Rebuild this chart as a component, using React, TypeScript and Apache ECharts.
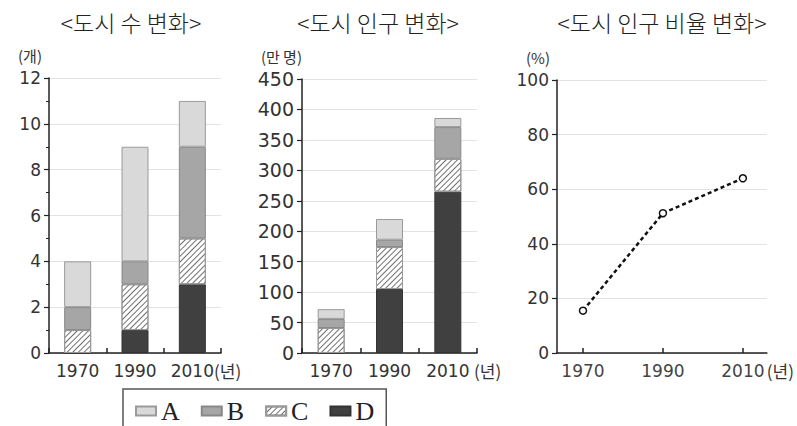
import React, { useEffect, useRef } from 'react';
import * as echarts from 'echarts';

const years = ['1970', '1990', '2010'];
const seriesNames = ['A', 'B', 'C', 'D'];

// <도시 수 변화> (개)
const countA = [2, 5, 2];
const countB = [1, 1, 4];
const countC = [1, 2, 2];
const countD = [0, 1, 3];

// <도시 인구 변화> (만 명)
const popA = [16, 34, 15];
const popB = [15, 12, 52];
const popC = [41, 69, 54];
const popD = [0, 105, 265];

// <도시 인구 비율 변화> (%)
const ratioYears = [1970, 1990, 2010];
const ratioValues = [15.5, 51.2, 64];

const titles = ['<도시 수 변화>', '<도시 인구 변화>', '<도시 인구 비율 변화>'];

const NUM_FONT = 'DejaVu Sans';
const KR_FONT = 'Noto Sans CJK KR';

const hatch = {
  symbol: 'rect',
  symbolSize: 1,
  dashArrayX: [1, 0],
  dashArrayY: [1, 2.6],
  rotation: -Math.PI / 4,
  color: '#707070',
};

const styles: Record<string, any> = {
  A: { color: '#d9d9d9', borderColor: '#9a9a9a', borderWidth: 1 },
  B: { color: '#a6a6a6', borderColor: '#888888', borderWidth: 1 },
  C: { color: '#ffffff', borderColor: '#999999', borderWidth: 1, decal: hatch },
  D: { color: '#404040', borderColor: '#333333', borderWidth: 1 },
};

export default function App() {
  const ref = useRef<HTMLDivElement>(null);
  useEffect(() => {
    if (!ref.current) return;
    const chart = echarts.init(ref.current, undefined, { renderer: 'svg' });

    const countData: Record<string, number[]> = { A: countA, B: countB, C: countC, D: countD };
    const popData: Record<string, number[]> = { A: popA, B: popB, C: popC, D: popD };
    const stackOrder = ['D', 'C', 'B', 'A'];

    const barSeries = (data: Record<string, number[]>, idx: number, stack: string) =>
      stackOrder.map((n) => ({
        name: n,
        type: 'bar',
        stack,
        xAxisIndex: idx,
        yAxisIndex: idx,
        barWidth: 27,
        data: data[n],
        itemStyle: styles[n],
      }));

    const catAxis = (idx: number, nameGap: number) => ({
      type: 'category',
      gridIndex: idx,
      data: years,
      boundaryGap: true,
      axisLine: { lineStyle: { color: '#222', width: 1.5 } },
      axisTick: { show: true, inside: true, length: 5, lineStyle: { color: '#222', width: 1.5 } },
      axisLabel: { fontFamily: NUM_FONT, fontSize: 17, color: '#333', margin: 9 },
      name: '(년)',
      nameLocation: 'end',
      nameGap,
      nameMoveOverlap: false,
      nameTextStyle: {
        fontFamily: KR_FONT,
        fontSize: 17,
        color: '#333',
        verticalAlign: 'top',
        padding: [9, 0, 0, 0],
      },
    });

    const valAxis = (
      idx: number,
      max: number,
      interval: number,
      name: string,
      fontSize: number,
      namePadRight: number,
      minor: boolean
    ) => ({
      type: 'value',
      gridIndex: idx,
      min: 0,
      max,
      interval,
      axisLine: { show: true, lineStyle: { color: '#222', width: 1.5 } },
      axisTick: { show: true, length: 5, lineStyle: { color: '#222', width: 1.2 } },
      minorTick: { show: minor, splitNumber: 2, length: 3, lineStyle: { color: '#222' } },
      splitLine: { show: true, lineStyle: { color: '#e2e2e2', width: 1 } },
      axisLabel: { fontFamily: NUM_FONT, fontSize, color: '#333', margin: 8 },
      name,
      nameLocation: 'end',
      nameGap: 15,
      nameMoveOverlap: false,
      nameTextStyle: {
        fontFamily: KR_FONT,
        fontSize: 15,
        lineHeight: 16,
        color: '#333',
        align: 'right',
        padding: [0, namePadRight, 0, 0],
      },
    });

    const option: any = {
      animation: false,
      backgroundColor: '#ffffff',
      title: titles.map((t, i) => ({
        text: t,
        left: [126, 373, 657][i],
        top: 5,
        textAlign: 'center',
        textStyle: { fontFamily: KR_FONT, fontWeight: 300, fontSize: 23, color: '#222' },
      })),
      legend: {
        data: seriesNames,
        left: 123,
        top: 389,
        orient: 'horizontal',
        icon: 'rect',
        itemWidth: 20,
        itemHeight: 9,
        itemGap: 21,
        padding: [9, 12, 30, 12],
        borderColor: '#555',
        borderWidth: 1.5,
        selectedMode: false,
        textStyle: { fontFamily: 'Liberation Serif', fontSize: 26, color: '#222' },
      },
      grid: [
        { left: 49, top: 78, width: 172, height: 275 },
        { left: 302, top: 79, width: 175, height: 274 },
        { left: 557, top: 80, width: 211, height: 273 },
      ],
      xAxis: [
        catAxis(0, -7),
        catAxis(1, -3),
        {
          type: 'value',
          gridIndex: 2,
          min: 1963.5,
          max: 2016,
          axisLine: { lineStyle: { color: '#222', width: 1.5 } },
          axisTick: {
            show: true,
            inside: true,
            length: 5,
            customValues: ratioYears,
            lineStyle: { color: '#222', width: 1.5 },
          },
          axisLabel: {
            fontFamily: NUM_FONT,
            fontSize: 17,
            color: '#444',
            margin: 9,
            customValues: ratioYears,
            formatter: (v: number) => String(v),
          },
          splitLine: { show: false },
          name: '(년)',
          nameLocation: 'end',
          nameGap: 0,
          nameMoveOverlap: false,
          nameTextStyle: {
            fontFamily: KR_FONT,
            fontSize: 17,
            color: '#333',
            verticalAlign: 'top',
            padding: [9, 0, 0, 0],
          },
        },
      ],
      yAxis: [
        valAxis(0, 12, 2, '(개)', 17, 7, true),
        valAxis(1, 450, 50, '(만 명)', 19, 0, false),
        valAxis(2, 100, 20, '(%)', 17, 7, false),
      ],
      series: [
        ...barSeries(countData, 0, 'count'),
        ...barSeries(popData, 1, 'pop'),
        {
          name: '비율',
          type: 'line',
          xAxisIndex: 2,
          yAxisIndex: 2,
          data: ratioYears.map((y, i) => [y, ratioValues[i]]),
          symbol: 'circle',
          symbolSize: 7,
          lineStyle: { color: '#111', width: 2.5, type: [4, 3] },
          itemStyle: { color: '#fff', borderColor: '#111', borderWidth: 1.5 },
        },
      ],
    };

    chart.setOption(option);
    return () => chart.dispose();
  }, []);

  return (
    <div
      ref={ref}
      style={{ position: 'fixed', left: 0, top: 0, width: 797, height: 426, background: '#fff' }}
    />
  );
}
